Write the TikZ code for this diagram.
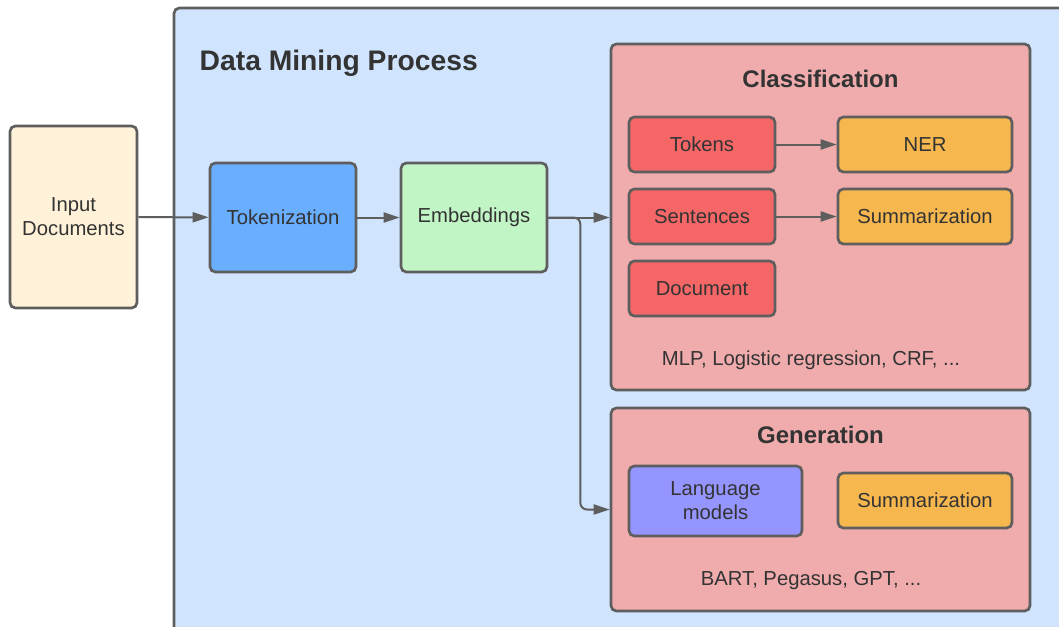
\documentclass[tikz,border=0pt]{standalone}
\usepackage{fontspec}
\setmainfont{Liberation Sans}
\usetikzlibrary{arrows.meta}

\definecolor{edgegray}{HTML}{5E5E5E}
\definecolor{textgray}{HTML}{333333}
\definecolor{processblue}{HTML}{D0E4FE}
\definecolor{inputcream}{HTML}{FFF2D9}
\definecolor{tokblue}{HTML}{6AAFFF}
\definecolor{embgreen}{HTML}{C2F5C6}
\definecolor{panelpink}{HTML}{F0ACAC}
\definecolor{unitred}{HTML}{F56666}
\definecolor{taskorange}{HTML}{F6B74F}
\definecolor{lmviolet}{HTML}{9595FF}

\begin{document}
\begin{tikzpicture}[
      x=0.75pt, y=-0.75pt,
      box/.style={rectangle, rounded corners=4pt, draw=edgegray, line width=2pt,
        text=textgray, align=center, font=\fontsize{15.2}{18}\selectfont},
      stage/.style={box, minimum width=109.5pt, minimum height=81.75pt},
      unit/.style={box, fill=unitred, minimum width=109.5pt, minimum height=41.25pt},
      task/.style={box, fill=taskorange, minimum width=130.5pt, minimum height=41.25pt},
      panel/.style={box, fill=panelpink, minimum width=314.25pt},
      heading/.style={text=textgray, font=\fontsize{18}{21}\selectfont\bfseries},
      note/.style={text=textgray, font=\fontsize{15.2}{18}\selectfont},
      conn/.style={-{Triangle[length=12pt, width=7.5pt]}, draw=edgegray, line width=1.5pt}
    ]
    \useasboundingbox (0,0) rectangle (1059,626);

    % Outer process frame
    \node[box, fill=processblue, minimum width=675.75pt, minimum height=474pt]
      (dmp) at (624.5,324) {};
    \node[heading, font=\fontsize{21.2}{24}\selectfont\bfseries, anchor=west]
      (dmptitle) at (195,63) {Data Mining Process};

    % Input and pipeline
    \node[box, fill=inputcream, minimum width=95.25pt, minimum height=136.5pt]
      (input) at (73.5,217) {Input\\Documents};
    \node[stage, fill=tokblue] (tok) at (283,217.5) {Tokenization};
    \node[stage, fill=embgreen] (emb) at (474,217.5) {Embeddings};

    % Classification panel
    \node[panel, minimum height=259.5pt] (cls) at (820.5,217) {};
    \node[heading] (clstitle) at (820.5,79) {Classification};
    \node[unit] (tokens) at (702,144.5) {Tokens};
    \node[task] (ner) at (925,144.5) {NER};
    \node[unit] (sent) at (702,216.5) {Sentences};
    \node[task] (summ) at (925,216.5) {Summarization};
    \node[unit] (doc) at (702,288.5) {Document};
    \node[note] (clsnote) at (811,360) {MLP, Logistic regression, CRF, ...};

    % Generation panel
    \node[panel, minimum height=152.25pt] (gen) at (820.5,509.5) {};
    \node[heading] (gentitle) at (820.5,435) {Generation};
    \node[box, fill=lmviolet, minimum width=129.75pt, minimum height=52.5pt]
      (lm) at (715.5,501) {Language\\models};
    \node[task] (gensumm) at (925,500.5) {Summarization};
    \node[note] (gennote) at (811,581) {BART, Pegasus, GPT, ...};

    % Connectors
    \draw[conn] (input) -- (tok);
    \draw[conn] (tok) -- (emb);
    \draw[conn] (emb.east) -- (emb.east -| cls.west);
    \draw[conn, rounded corners=5pt] (emb.east) -- ++(32,0) |- (gen.west);
    \draw[conn] (tokens) -- (ner);
    \draw[conn] (sent) -- (summ);
  \end{tikzpicture}
\end{document}
